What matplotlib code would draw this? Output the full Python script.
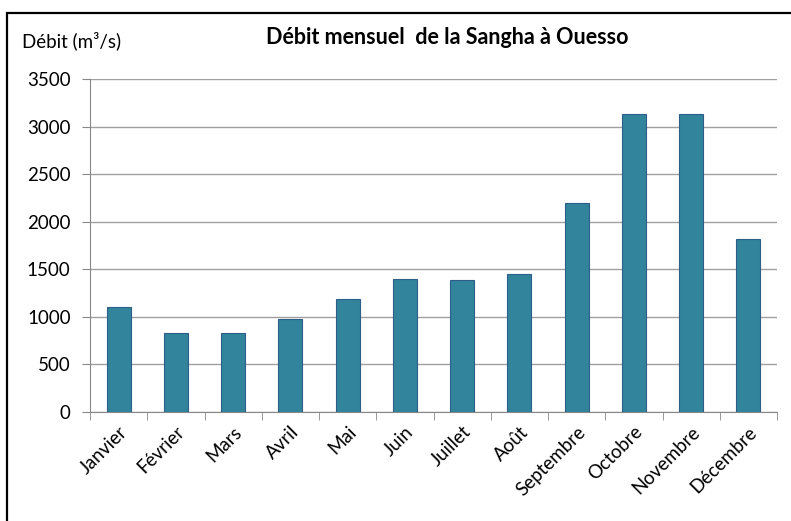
import matplotlib.pyplot as plt
import matplotlib.patches as mpatches
import numpy as np

mois = ["Janvier", "Février", "Mars", "Avril", "Mai", "Juin", "Juillet",
        "Août", "Septembre", "Octobre", "Novembre", "Décembre"]
debit = [1105, 830, 830, 975, 1185, 1395, 1385, 1450, 2195, 3135, 3135, 1815]
yticks = [0, 500, 1000, 1500, 2000, 2500, 3000, 3500]

plt.rcParams["font.family"] = ["Lato", "DejaVu Sans"]

fig = plt.figure(figsize=(7.91, 5.21), dpi=100)
ax = fig.add_axes([0.1138, 0.2092, 0.8685, 0.6392])

x = np.arange(len(mois))
ax.bar(x, debit, width=0.42, color="#31849B", edgecolor="#2F5D8A", linewidth=0.8, zorder=3)

ax.set_xlim(-0.5, len(mois) - 0.5)
ax.set_ylim(0, 3500)
ax.set_yticks(yticks)
ax.set_yticklabels([str(v) for v in yticks], fontsize=13.5)
ax.yaxis.grid(True, color="#A0A0A0", linewidth=1, zorder=0)

ax.set_xticks(x)
ax.set_xticklabels(mois, rotation=45, ha="right", va="top", rotation_mode="anchor", fontsize=13.5)
ax.tick_params(axis="x", which="major", length=0, pad=8)
ax.set_xticks(np.arange(-0.5, len(mois), 1), minor=True)
ax.tick_params(axis="x", which="minor", length=6, color="#888888")
ax.tick_params(axis="y", length=6, color="#888888", pad=8)

for s in ["top", "right"]:
    ax.spines[s].set_visible(False)
for s in ["left", "bottom"]:
    ax.spines[s].set_color("#888888")

fig.text(0.565, 0.928, "Débit mensuel  de la Sangha à Ouesso", ha="center", va="center",
         fontsize=15.5, fontweight="bold")
fig.text(0.028, 0.922, "Débit (m³/s)", ha="left", va="center", fontsize=13.5)

# cadre noir autour du graphique
cadre = mpatches.Rectangle((7 / 791, -0.1), 1.2, 1 - 13 / 521 + 0.1, transform=fig.transFigure,
                           fill=False, edgecolor="black", linewidth=1.6)
fig.patches.append(cadre)

fig.savefig("out.png", dpi=100)
